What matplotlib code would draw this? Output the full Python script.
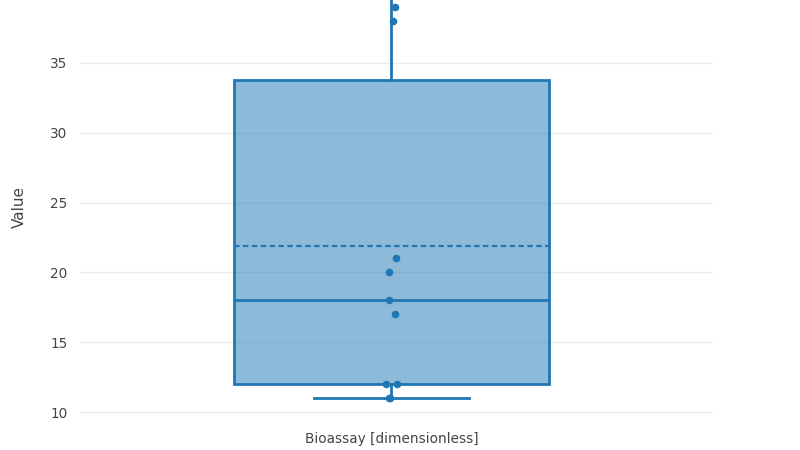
import matplotlib
matplotlib.use('Agg')
import matplotlib.pyplot as plt

# box statistics
category = 'Bioassay [dimensionless]'
q1 = 12.0
median = 18.0
q3 = 33.8
mean = 21.9
whisker_low = 11.0
whisker_high = 45.0

# the visible sample points and their horizontal jitter
points = [39, 38, 21, 20, 18, 17, 12, 12, 11, 11]
jitter = [0.006, 0.002, 0.007, -0.004, -0.004, 0.006, -0.008, 0.009, -0.003, -0.002]

yticks = [10, 15, 20, 25, 30, 35]

blue = '#1f77b4'
plt.rcParams['font.family'] = ['DejaVu Sans']

fig = plt.figure(figsize=(8, 4.5), dpi=100)
ax = fig.add_axes([0.1, 0.078, 0.791, 0.922])

stats = [dict(label=category, med=median, q1=q1, q3=q3, mean=mean,
              whislo=whisker_low, whishi=whisker_high)]
ax.bxp(stats, positions=[0], widths=0.498, capwidths=[0.246],
       patch_artist=True, showmeans=True, meanline=True, showfliers=False,
       boxprops=dict(facecolor=(0.122, 0.467, 0.706, 0.5), edgecolor=blue, linewidth=2),
       medianprops=dict(color=blue, linewidth=2),
       meanprops=dict(color=blue, linewidth=1.6, linestyle=(0, (2.5, 1.5))),
       whiskerprops=dict(color=blue, linewidth=2),
       capprops=dict(color=blue, linewidth=2), zorder=2)

ax.scatter(jitter, points, s=30, color=blue, zorder=3, linewidths=0)

ax.set_xlim(-0.492, 0.508)
ax.set_ylim(9.8, 39.5)
ax.set_yticks(yticks)
ax.set_xticks([0])
ax.set_xticklabels([category])
ax.grid(axis='y', color='#ebebeb', linewidth=1, zorder=0)
ax.set_axisbelow(True)
for s in ax.spines.values():
    s.set_visible(False)
ax.tick_params(length=0, labelsize=9.8, colors='#444444', pad=9)
ax.tick_params(axis='x', pad=12)
ax.set_ylabel('Value', fontsize=11, color='#444444', labelpad=17)

fig.savefig('out.png', dpi=100)
